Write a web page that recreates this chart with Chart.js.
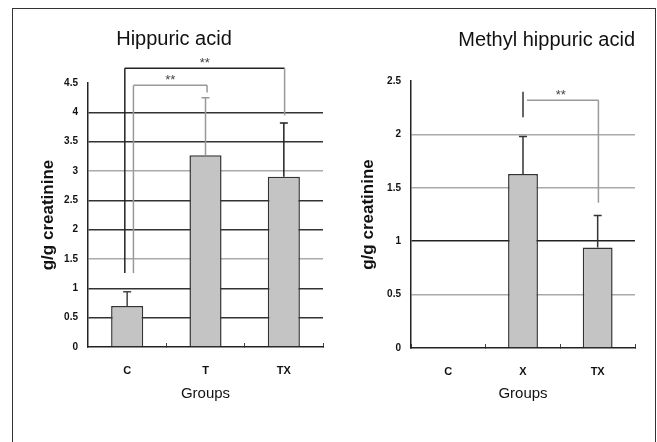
<!DOCTYPE html>
<html>
<head>
<meta charset="utf-8">
<script src="https://cdn.jsdelivr.net/npm/chart.js@4.4.1/dist/chart.umd.min.js"></script>
<style>
  html, body { margin: 0; padding: 0; background: #fff; overflow: hidden; }
  #frame { position: absolute; left: 12px; top: 8px; width: 642px; height: 460px; border: 1px solid #333; }
  #wrapA { position: absolute; left: 12px; top: 8px; width: 323px; height: 434px; }
  #wrapB { position: absolute; left: 335px; top: 8px; width: 320px; height: 434px; }
</style>
</head>
<body>
<div id="frame"></div>
<div id="wrapA"><canvas id="chartA" width="323" height="434"></canvas></div>
<div id="wrapB"><canvas id="chartB" width="320" height="434"></canvas></div>
<script>
// Hippuric acid (g/g creatinine)
const groupsA = ['C', 'T', 'TX'];
const meanA = [0.70, 3.27, 2.90];
const sdA = [0.24, 0.98, 0.92];

// Methyl hippuric acid (g/g creatinine)
const groupsB = ['C', 'X', 'TX'];
const meanB = [null, 1.63, 0.94];
const sdB = [null, 0.35, 0.30];

// significance brackets: category positions + y values
const bracketsA = [
  { from: -0.03, to: 2.01, top: 4.75, leftTop: 4.75, leftEnd: 1.26, rightEnd: 3.95, label: '**' },
  { from: 0.08, to: 1.02, top: 4.46, leftTop: 4.46, leftEnd: 1.26, rightEnd: 4.34, label: '**' }
];
const bracketsB = [
  { from: 1.0, to: 2.01, top: 2.32, leftTop: 2.40, leftEnd: 2.16, rightEnd: 1.36, label: '**' }
];

const FONT = "'Liberation Sans', Arial, sans-serif";

const errorBars = {
  id: 'errorBars',
  afterDatasetsDraw(chart, args, opts) {
    const { ctx } = chart;
    const y = chart.scales.y;
    const meta = chart.getDatasetMeta(0);
    const data = chart.data.datasets[0].data;
    ctx.save();
    ctx.lineWidth = 1.5;
    opts.sd.forEach((sd, i) => {
      if (data[i] == null || sd == null) return;
      const x = meta.data[i].x;
      const y0 = y.getPixelForValue(data[i]);
      const y1 = y.getPixelForValue(data[i] + sd);
      ctx.strokeStyle = opts.colors[i];
      ctx.beginPath();
      ctx.moveTo(x, y0); ctx.lineTo(x, y1);
      ctx.moveTo(x - 4, y1); ctx.lineTo(x + 4, y1);
      ctx.stroke();
    });
    ctx.restore();
  }
};

const brackets = {
  id: 'brackets',
  afterDraw(chart, args, opts) {
    const { ctx } = chart;
    const x = chart.scales.x, y = chart.scales.y;
    ctx.save();
    ctx.lineWidth = 1.5;
    opts.items.forEach((b, i) => {
      const xl = x.getPixelForValue(b.from);
      const xr = x.getPixelForValue(b.to);
      const yt = y.getPixelForValue(b.top);
      ctx.strokeStyle = opts.colors[i][0];
      ctx.beginPath();
      ctx.moveTo(xl, y.getPixelForValue(b.leftEnd));
      ctx.lineTo(xl, y.getPixelForValue(b.leftTop));
      ctx.stroke();
      ctx.strokeStyle = opts.colors[i][1];
      ctx.beginPath();
      ctx.moveTo(xl + (b.leftTop === b.top ? 0 : 4), yt);
      ctx.lineTo(xr, yt);
      ctx.stroke();
      ctx.strokeStyle = opts.colors[i][2];
      ctx.beginPath();
      ctx.moveTo(xr, yt);
      ctx.lineTo(xr, y.getPixelForValue(b.rightEnd));
      ctx.stroke();
      ctx.fillStyle = '#444';
      ctx.font = '13px ' + FONT;
      ctx.textAlign = 'center';
      ctx.textBaseline = 'bottom';
      ctx.fillText(b.label, (xl + xr) / 2, yt + 2);
    });
    ctx.restore();
  }
};

function makeChart(id, cfg) {
  return new Chart(document.getElementById(id), {
    type: 'bar',
    data: {
      labels: cfg.labels,
      datasets: [{
        data: cfg.values,
        backgroundColor: '#c4c4c4',
        borderColor: '#333',
        borderWidth: 1.5,
        categoryPercentage: 1,
        barPercentage: cfg.barPct
      }]
    },
    options: {
      responsive: false,
      animation: false,
      layout: { padding: { left: cfg.padLeft, right: cfg.padRight, top: 0, bottom: 0 } },
      plugins: {
        legend: { display: false },
        tooltip: { enabled: false },
        title: {
          display: true,
          text: cfg.title,
          align: cfg.titleAlign,
          color: '#111',
          font: { family: FONT, size: 20, weight: 'normal' },
          padding: cfg.titlePad
        },
        errorBars: { sd: cfg.sd, colors: cfg.errColors },
        brackets: { items: cfg.brackets, colors: cfg.bracketColors }
      },
      scales: {
        x: {
          afterFit: s => { s.height = cfg.xHeight; },
          grid: { drawOnChartArea: false, drawTicks: true, tickLength: -4, color: '#444', lineWidth: 1 },
          border: { color: '#222', width: 1.5 },
          ticks: { color: '#111', padding: 21, font: { family: FONT, size: 11, weight: 'bold' } },
          title: {
            display: true, text: 'Groups', color: '#111',
            font: { family: FONT, size: 15 },
            padding: { top: 0, bottom: 39 }
          }
        },
        y: {
          min: 0,
          max: cfg.yMax,
          afterFit: s => { s.width = cfg.yWidth; },
          ticks: {
            stepSize: 0.5, color: '#111', padding: 10,
            font: { family: FONT, size: 10, weight: 'bold' },
            callback: v => String(v)
          },
          grid: {
            drawTicks: false,
            lineWidth: 1.5,
            color: c => cfg.gridColor(c.tick.value)
          },
          border: { color: '#222', width: 1.5 },
          title: {
            display: true, text: 'g/g creatinine', color: '#111',
            font: { family: FONT, size: 17, weight: 'bold' },
            padding: { top: cfg.yTitlePad, bottom: 0 }
          }
        }
      }
    },
    plugins: [errorBars, brackets]
  });
}

makeChart('chartA', {
  labels: groupsA, values: meanA, sd: sdA,
  title: 'Hippuric acid', titleAlign: 'center',
  titlePad: { top: 19, bottom: 32 },
  padLeft: 13, padRight: 12, yWidth: 63, yTitlePad: 13, xHeight: 95,
  yMax: 4.5, barPct: 0.41,
  errColors: ['#444', '#999', '#222'],
  brackets: bracketsA,
  bracketColors: [['#222', '#222', '#999'], ['#999', '#999', '#999']],
  gridColor: v => (v === 0 || v === 4.5) ? 'rgba(0,0,0,0)' : ((v === 3 || v === 1.5) ? '#aaa' : '#333')
});

makeChart('chartB', {
  labels: groupsB, values: meanB, sd: sdB,
  title: 'Methyl hippuric acid', titleAlign: 'end',
  titlePad: { top: 20, bottom: 29 },
  padLeft: 0, padRight: 20, yWidth: 76, yTitlePad: 23, xHeight: 94,
  yMax: 2.5, barPct: 0.40,
  errColors: ['#333', '#333', '#333'],
  brackets: bracketsB,
  bracketColors: [['#333', '#999', '#999']],
  gridColor: v => (v === 0 || v === 2.5) ? 'rgba(0,0,0,0)' : (v === 1 ? '#222' : '#aaa')
});
</script>
</body>
</html>
